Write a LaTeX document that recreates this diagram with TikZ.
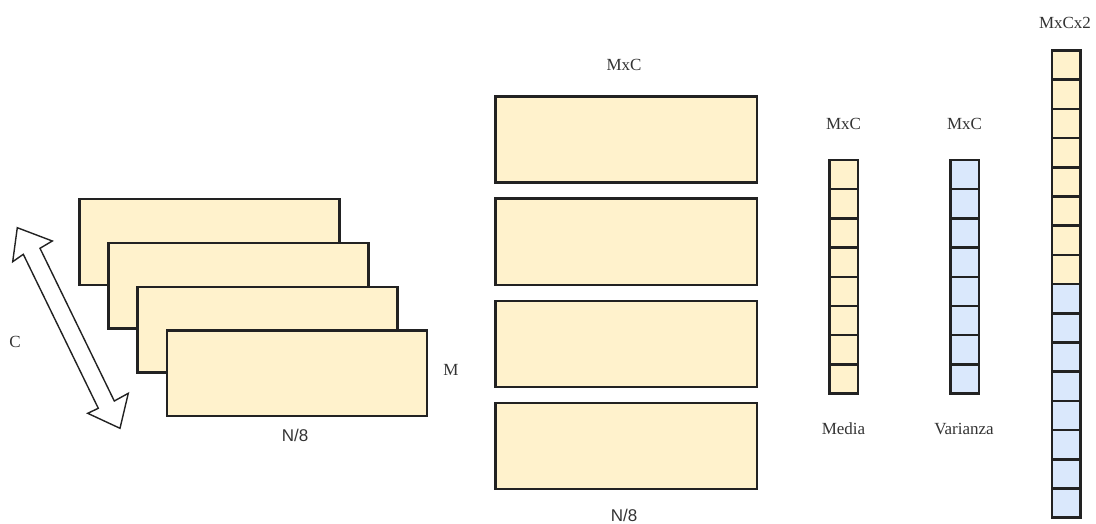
\documentclass[tikz,border=0pt]{standalone}
\usepackage{fontspec}
\setmainfont{Liberation Serif}
\newfontfamily\arialfont{Liberation Sans}
\definecolor{ylw}{HTML}{FFF2CC}
\definecolor{blu}{HTML}{DAE8FC}
\definecolor{edge}{HTML}{222222}
\definecolor{txt}{HTML}{333333}
\begin{document}
\begin{tikzpicture}[x=1pt,y=-1pt,
  bigbox/.style={draw=edge,fill=ylw,line width=2.5pt,minimum width=260pt,minimum height=85.5pt,inner sep=0pt,anchor=north west},
  midbox/.style={draw=edge,fill=ylw,line width=2.5pt,minimum width=261.5pt,minimum height=86pt,inner sep=0pt,anchor=north west},
  cellY/.style={draw=edge,fill=ylw,line width=2.5pt,minimum width=28.5pt,minimum height=29.2pt,inner sep=0pt},
  cellB/.style={cellY,fill=blu},
  lbl/.style={text=txt,font=\fontsize{17}{20}\selectfont,inner sep=0pt},
  slbl/.style={text=txt,font=\arialfont\fontsize{17}{20}\selectfont,inner sep=0pt}]
\useasboundingbox[fill=white] (0,0) rectangle (1096,524);
% left stack
\node[bigbox] (s1) at (78,198) {};
\node[bigbox] (s2) at (107.2,241.8) {};
\node[bigbox] (s3) at (136.4,285.6) {};
\node[bigbox] (s4) at (165.6,329.4) {};
% double arrow
\draw[draw=edge,fill=white,line width=1.4pt,line join=miter]
  (17.3,227.7) -- (52.3,241) -- (40,248.3) -- (114.3,401) -- (128.3,393.3) -- (120,428.3)
  -- (87.7,413.3) -- (98.3,408.3) -- (23.3,254.3) -- (12.7,261.7) -- cycle;
\node[lbl] (lc) at (15,342) {C};
\node[lbl] (lm) at (451,370) {M};
\node[slbl] (ln1) at (295,435) {N/8};
% middle column
\node[midbox] (b1) at (494,95.5) {};
\node[midbox] (b2) at (494,197.5) {};
\node[midbox] (b3) at (494,299.5) {};
\node[midbox] (b4) at (494,401.5) {};
\node[lbl] (lmxc) at (624,65) {MxC};
\node[slbl] (ln2) at (624,515) {N/8};
% columns of cells
\foreach \i in {0,...,7} {\node[cellY] (me\i) at (843.5,{174.6+29.2*\i}) {};}
\foreach \i in {0,...,7} {\node[cellB] (va\i) at (964.5,{174.6+29.2*\i}) {};}
\foreach \i in {0,...,7} {\node[cellY] (ry\i) at (1066.3,{65.1+29.2*\i}) {};}
\foreach \i in {0,...,7} {\node[cellB] (rb\i) at (1066.3,{298.7+29.2*\i}) {};}
\node[lbl] (lmxc1) at (843.5,124) {MxC};
\node[lbl] (lmxc2) at (964.5,124) {MxC};
\node[lbl] (lmed) at (843.5,429) {Media};
\node[lbl] (lvar) at (964,429) {Varianza};
\node[lbl] (lmxc3) at (1065,23) {MxCx2};
\end{tikzpicture}
\end{document}
